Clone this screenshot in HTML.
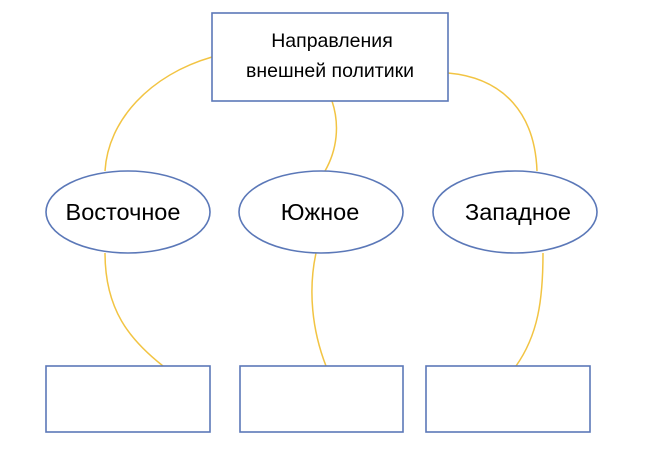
<!DOCTYPE html>
<html><head><meta charset="utf-8"><style>
html,body{margin:0;padding:0;background:#fff;}
svg{display:block;}
text{font-family:"Liberation Sans","DejaVu Sans",sans-serif;fill:#000;}
</style></head><body>
<svg width="650" height="459" viewBox="0 0 650 459" xmlns="http://www.w3.org/2000/svg">
<g fill="none" stroke="#F2C443" stroke-width="1.5">
<path d="M212,57 C150,75 108,120 105,171"/>
<path d="M332,101 C340,125 337,150 325,171"/>
<path d="M448,73 C505,78 535,115 537,171"/>
<path d="M105,253 C105,310 130,340 163,366"/>
<path d="M316,253 C308,290 312,330 326,366"/>
<path d="M543,253 C543,300 538,335 516,366"/>
</g>
<g fill="#fff" stroke="#5B78B8" stroke-width="1.6">
<rect x="212" y="13" width="236" height="88"/>
<ellipse cx="128" cy="212" rx="82" ry="41"/>
<ellipse cx="321" cy="212" rx="82" ry="41"/>
<ellipse cx="515" cy="212" rx="82" ry="41"/>
<rect x="46" y="366" width="164" height="66"/>
<rect x="240" y="366" width="163" height="66"/>
<rect x="426" y="366" width="164" height="66"/>
</g>
<text x="332" y="47" font-size="19.5" text-anchor="middle">Направления</text>
<text x="330" y="77" font-size="19.5" text-anchor="middle">внешней политики</text>
<text x="123" y="220" font-size="23.5" text-anchor="middle">Восточное</text>
<text x="320" y="220" font-size="23.5" text-anchor="middle">Южное</text>
<text x="518" y="220" font-size="23.5" text-anchor="middle">Западное</text>
</svg>
</body></html>
